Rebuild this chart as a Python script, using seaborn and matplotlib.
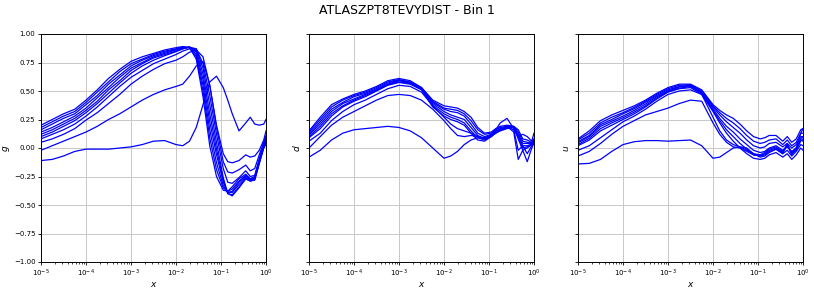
import numpy as np
import pandas as pd
import matplotlib
matplotlib.use("Agg")
import matplotlib.pyplot as plt
import seaborn as sns

TITLE = "ATLASZPT8TEVYDIST - Bin 1"
PANEL_LABELS = ["g", "d", "u"]
Y_TICKS = [-1.0, -0.75, -0.5, -0.25, 0.0, 0.25, 0.5, 0.75, 1.0]

# log10(x) sample positions shared by all curves
x_exp = [-5, -4.75, -4.5, -4.25, -4, -3.75, -3.5, -3.25, -3, -2.75, -2.5, -2.25,
         -2, -1.85, -1.7, -1.55, -1.4, -1.25, -1.1, -0.95, -0.85, -0.75, -0.6,
         -0.45, -0.35, -0.25, -0.15, -0.05, 0]

# ---------------- g ----------------
g_k0 = [0.20,0.25,0.30,0.34,0.42,0.51,0.61,0.69,0.76,0.80,0.83,0.86,0.88,0.89,0.88,0.78,0.45,0.02,-0.25,-0.37,-0.38,-0.34,-0.27,-0.23,-0.27,-0.25,-0.10,0.04,0.10]
g_k1 = [0.18,0.23,0.28,0.32,0.40,0.49,0.58,0.67,0.74,0.78,0.82,0.85,0.87,0.885,0.88,0.80,0.50,0.09,-0.19,-0.35,-0.38,-0.36,-0.29,-0.24,-0.27,-0.26,-0.11,0.03,0.09]
g_k2 = [0.16,0.21,0.26,0.30,0.38,0.46,0.56,0.64,0.72,0.77,0.81,0.84,0.865,0.88,0.885,0.82,0.55,0.16,-0.13,-0.33,-0.39,-0.38,-0.30,-0.25,-0.28,-0.26,-0.12,0.02,0.07]
g_k3 = [0.14,0.18,0.23,0.28,0.35,0.44,0.53,0.62,0.70,0.75,0.80,0.83,0.86,0.875,0.885,0.84,0.60,0.23,-0.06,-0.30,-0.39,-0.39,-0.32,-0.26,-0.28,-0.27,-0.12,0.01,0.06]
g_k4 = [0.12,0.16,0.21,0.26,0.33,0.41,0.51,0.59,0.68,0.74,0.79,0.82,0.85,0.87,0.885,0.855,0.65,0.30,-0.01,-0.28,-0.40,-0.41,-0.34,-0.27,-0.29,-0.28,-0.13,0.005,0.045]
g_k5 = [0.10,0.14,0.19,0.24,0.31,0.39,0.48,0.57,0.655,0.72,0.77,0.81,0.845,0.87,0.885,0.87,0.70,0.38,0.05,-0.26,-0.40,-0.42,-0.35,-0.27,-0.29,-0.28,-0.14,0.0,0.03]
g_D = [0.08,0.12,0.16,0.21,0.28,0.36,0.45,0.54,0.62,0.68,0.74,0.78,0.82,0.85,0.87,0.87,0.74,0.46,0.12,-0.18,-0.30,-0.31,-0.26,-0.20,-0.25,-0.24,-0.10,0.03,0.08]
g_C = [0.05,0.08,0.12,0.17,0.245,0.31,0.39,0.47,0.56,0.63,0.69,0.74,0.77,0.80,0.84,0.86,0.80,0.55,0.18,-0.12,-0.21,-0.22,-0.19,-0.15,-0.20,-0.18,-0.06,0.05,0.11]
g_B = [-0.02,0.02,0.06,0.10,0.14,0.19,0.25,0.30,0.36,0.42,0.47,0.51,0.54,0.56,0.63,0.72,0.76,0.55,0.20,-0.05,-0.12,-0.13,-0.11,-0.06,-0.08,-0.07,-0.02,0.07,0.15]
g_A = [-0.11,-0.10,-0.07,-0.03,-0.01,-0.01,-0.01,0.0,0.01,0.03,0.06,0.065,0.03,0.02,0.06,0.18,0.38,0.58,0.63,0.53,0.42,0.30,0.15,0.22,0.27,0.21,0.20,0.21,0.25]

# ---------------- d ----------------
d_k0 = [0.15,0.27,0.38,0.43,0.47,0.50,0.54,0.59,0.61,0.59,0.53,0.42,0.37,0.36,0.35,0.32,0.27,0.18,0.13,0.14,0.17,0.19,0.20,0.19,0.16,0.08,0.07,0.05,0.08]
d_k1 = [0.14,0.25,0.36,0.42,0.46,0.49,0.53,0.58,0.60,0.58,0.53,0.41,0.35,0.34,0.33,0.30,0.24,0.16,0.12,0.13,0.16,0.18,0.19,0.19,0.14,0.06,0.05,0.045,0.075]
d_k2 = [0.125,0.23,0.34,0.40,0.45,0.48,0.52,0.57,0.595,0.575,0.52,0.40,0.34,0.32,0.31,0.28,0.21,0.13,0.10,0.12,0.15,0.17,0.185,0.185,0.12,0.04,0.04,0.04,0.07]
d_k3 = [0.115,0.21,0.32,0.39,0.43,0.47,0.51,0.56,0.59,0.57,0.52,0.39,0.32,0.29,0.27,0.25,0.18,0.11,0.08,0.11,0.14,0.16,0.18,0.18,0.11,0.02,0.02,0.035,0.06]
d_k4 = [0.10,0.19,0.30,0.37,0.42,0.46,0.505,0.555,0.58,0.565,0.515,0.375,0.30,0.27,0.25,0.22,0.15,0.09,0.07,0.10,0.135,0.155,0.175,0.18,0.09,0.0,0.01,0.03,0.055]
d_k5 = [0.09,0.17,0.28,0.36,0.41,0.45,0.50,0.55,0.575,0.56,0.51,0.36,0.28,0.25,0.23,0.20,0.13,0.07,0.06,0.10,0.13,0.15,0.17,0.18,0.08,-0.02,0.0,0.03,0.05]
d_C = [0.06,0.13,0.24,0.32,0.38,0.42,0.47,0.52,0.55,0.54,0.49,0.37,0.27,0.21,0.17,0.15,0.13,0.10,0.08,0.11,0.14,0.16,0.18,0.16,-0.02,0.02,-0.05,0.02,0.05]
d_B = [0.0,0.10,0.20,0.27,0.32,0.37,0.42,0.46,0.47,0.46,0.42,0.34,0.24,0.17,0.11,0.10,0.11,0.10,0.09,0.11,0.13,0.16,0.19,0.14,-0.10,-0.02,-0.12,0.0,0.04]
d_A = [-0.08,-0.02,0.07,0.13,0.16,0.17,0.18,0.19,0.18,0.15,0.09,0.0,-0.09,-0.07,-0.03,0.03,0.07,0.09,0.09,0.11,0.16,0.22,0.26,0.17,0.10,0.12,0.10,0.06,0.13]

# ---------------- u ----------------
u_k0 = [0.08,0.15,0.24,0.29,0.33,0.37,0.42,0.48,0.53,0.56,0.56,0.51,0.38,0.33,0.29,0.26,0.21,0.15,0.10,0.08,0.09,0.11,0.11,0.06,0.10,0.05,0.08,0.16,0.17]
u_k1 = [0.07,0.13,0.22,0.27,0.31,0.356,0.41,0.47,0.52,0.55,0.555,0.50,0.37,0.31,0.26,0.22,0.17,0.11,0.06,0.04,0.05,0.07,0.08,0.03,0.07,0.02,0.05,0.13,0.13]
u_k2 = [0.055,0.11,0.205,0.25,0.30,0.345,0.40,0.46,0.51,0.54,0.55,0.49,0.36,0.29,0.23,0.18,0.13,0.07,0.02,0.0,0.01,0.04,0.05,0.01,0.04,0.0,0.03,0.10,0.10]
u_k3 = [0.045,0.10,0.19,0.235,0.28,0.33,0.385,0.45,0.50,0.535,0.545,0.485,0.345,0.26,0.19,0.14,0.08,0.03,-0.02,-0.04,-0.03,0.0,0.02,-0.02,0.01,-0.03,0.0,0.07,0.06]
u_k4 = [0.03,0.085,0.17,0.22,0.265,0.315,0.37,0.44,0.495,0.525,0.54,0.48,0.33,0.24,0.16,0.10,0.04,-0.01,-0.06,-0.07,-0.06,-0.03,-0.01,-0.05,-0.02,-0.07,-0.03,0.03,0.02]
u_k5 = [0.02,0.07,0.15,0.20,0.25,0.30,0.36,0.43,0.49,0.52,0.53,0.47,0.32,0.22,0.13,0.06,0.0,-0.05,-0.09,-0.10,-0.09,-0.06,-0.04,-0.08,-0.05,-0.10,-0.06,0.0,-0.02]
u_C = [-0.02,0.02,0.09,0.16,0.23,0.28,0.34,0.41,0.47,0.50,0.51,0.47,0.27,0.15,0.07,0.03,0.01,-0.02,-0.05,-0.06,-0.04,-0.01,0.01,-0.03,0.03,-0.04,0.0,0.08,0.10]
u_B = [-0.07,-0.03,0.04,0.12,0.19,0.24,0.29,0.32,0.35,0.39,0.42,0.41,0.22,0.12,0.05,0.01,0.0,-0.03,-0.06,-0.07,-0.05,-0.02,0.0,-0.04,0.02,-0.05,-0.02,0.06,0.08]
u_A = [-0.14,-0.135,-0.10,-0.03,0.03,0.055,0.065,0.065,0.06,0.065,0.07,0.02,-0.09,-0.08,-0.04,0.0,0.01,0.0,-0.05,-0.08,-0.07,-0.04,-0.01,-0.05,0.04,-0.06,0.0,0.13,0.17]

panels = {
    "g": [g_k0, g_k1, g_k2, g_k3, g_k4, g_k5, g_D, g_C, g_B, g_A],
    "d": [d_k0, d_k1, d_k2, d_k3, d_k4, d_k5, d_C, d_B, d_A],
    "u": [u_k0, u_k1, u_k2, u_k3, u_k4, u_k5, u_C, u_B, u_A],
}

fig = plt.figure(figsize=(8.14, 2.9), dpi=100)
lefts = [41 / 814, 309 / 814, 578 / 814]
bottom = 1 - 262 / 290
height = (262 - 34) / 290
width = 225 / 814

x_vals = [10.0 ** e for e in x_exp]

for i, name in enumerate(PANEL_LABELS):
    ax = fig.add_axes([lefts[i], bottom, width, height])
    rows = []
    for ci, ys in enumerate(panels[name]):
        for xv, yv in zip(x_vals, ys):
            rows.append({"x": xv, "y": yv, "curve": ci})
    df = pd.DataFrame(rows)
    sns.lineplot(data=df, x="x", y="y", units="curve", estimator=None,
                 color="blue", linewidth=0.9, ax=ax, legend=False, sort=False)
    ax.set_xscale("log")
    ax.set_xlim(1e-5, 1)
    ax.set_ylim(-1, 1)
    ax.set_yticks(Y_TICKS)
    ax.grid(True, color="#c8c8c8", linewidth=0.7)
    ax.set_axisbelow(True)
    ax.tick_params(labelsize=5, length=2.5, width=0.6, pad=1.5)
    ax.tick_params(which="minor", length=1.3, width=0.5)
    ax.set_xlabel("$x$", fontsize=6.5, labelpad=0.5)
    ax.set_ylabel(f"${name}$", fontsize=6.5, labelpad=1)
    if i > 0:
        ax.set_yticklabels([])
    else:
        ax.set_yticklabels([f"{t:.2f}".replace("-", "\u2212") for t in Y_TICKS])
    for s in ax.spines.values():
        s.set_linewidth(0.7)

fig.suptitle(TITLE, fontsize=9, y=0.985)
fig.savefig("out.png", dpi=100)
